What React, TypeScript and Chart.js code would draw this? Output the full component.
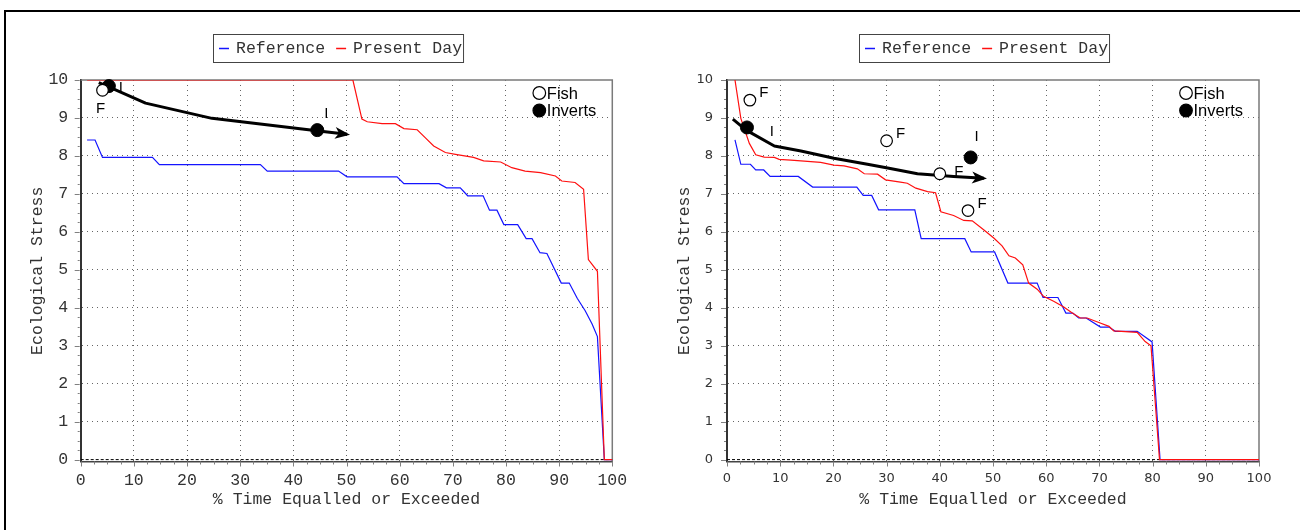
import React, { useEffect, useRef } from 'react';
import { Chart, registerables } from 'chart.js';

Chart.register(...registerables);

type P = [number, number];

// ---------- data ----------
const xTickValues = [0, 10, 20, 30, 40, 50, 60, 70, 80, 90, 100];
const yTickValues = [0, 1, 2, 3, 4, 5, 6, 7, 8, 9, 10];
const zeroLine: P[] = [[0, 0], [100, 0]];

const leftReference: P[] = [
  [1.2, 8.42], [2.7, 8.42], [4.1, 7.96], [13.5, 7.96], [14.8, 7.77], [33.8, 7.77], [35.1, 7.6],
  [48.5, 7.6], [50.1, 7.45], [59.5, 7.45], [60.8, 7.27], [67.4, 7.27], [68.8, 7.16], [71.4, 7.16],
  [72.8, 6.95], [75.7, 6.95], [76.9, 6.57], [78.3, 6.57], [79.6, 6.19], [82.2, 6.19], [83.8, 5.82],
  [84.9, 5.82], [86.4, 5.45], [87.7, 5.43], [90.4, 4.65], [91.9, 4.65], [93.4, 4.25], [94.9, 3.92],
  [96.2, 3.57], [97.2, 3.24], [98.5, 0], [100, 0],
];
const leftPresent: P[] = [
  [1.2, 10], [51.2, 10], [52.9, 8.97], [53.9, 8.9], [56.7, 8.85], [59.2, 8.85], [60.8, 8.72],
  [63.3, 8.69], [64.8, 8.48], [66.4, 8.26], [68.6, 8.09], [70.5, 8.04], [73.9, 7.96], [75.8, 7.87],
  [79, 7.84], [81.1, 7.69], [83.6, 7.6], [86.5, 7.56], [89.3, 7.47], [90.5, 7.34], [93, 7.3],
  [94.6, 7.12], [95.5, 5.27], [97.2, 4.96], [98.5, 0], [100, 0],
];
const leftTrend: P[] = [[3.4, 9.93], [5.6, 9.8], [12.2, 9.39], [24.7, 8.99], [46.4, 8.63], [50.1, 8.57]];
const leftFish: P[] = [[4.1, 9.73]];
const leftFishLabels = ['F'];
const leftFishPlacement = ['below'];
const leftInverts: P[] = [[5.3, 9.84], [44.5, 8.68]];
const leftInvertsLabels = ['I', 'I'];
const leftInvertsPlacement = ['right', 'above'];

const rightReference: P[] = [
  [1.5, 8.42], [2.6, 7.78], [4.4, 7.78], [5.4, 7.63], [6.9, 7.63], [8.1, 7.46], [13.4, 7.46],
  [16.1, 7.18], [24.4, 7.18], [25.6, 6.96], [27.2, 6.96], [28.5, 6.58], [35.3, 6.58], [36.5, 5.82],
  [44.7, 5.82], [45.9, 5.47], [50.3, 5.47], [52.8, 4.65], [58.3, 4.65], [59.4, 4.27], [62.2, 4.27],
  [63.7, 3.86], [65, 3.86], [66.1, 3.73], [67.5, 3.73], [70.2, 3.49], [71.8, 3.49], [73, 3.38],
  [77.1, 3.38], [79.9, 3.1], [81.4, 0], [100, 0],
];
const rightPresent: P[] = [
  [1.5, 10], [2.6, 8.99], [4.2, 8.33], [5.4, 8.03], [7, 7.97], [8.9, 7.96], [9.8, 7.91], [12, 7.89],
  [13.9, 7.87], [17.6, 7.83], [20.1, 7.76], [22, 7.74], [24.5, 7.66], [25.8, 7.53], [28.3, 7.52],
  [29.8, 7.37], [32.6, 7.31], [33.9, 7.28], [35.5, 7.15], [37.7, 7.06], [39.2, 7.03], [40.2, 6.53],
  [42.6, 6.43], [44.5, 6.3], [46.1, 6.29], [48.3, 6.05], [50.2, 5.83], [51.7, 5.63], [53, 5.37],
  [54.2, 5.31], [55.6, 5.13], [56.7, 4.65], [58.3, 4.49], [59.5, 4.3], [61.4, 4.17], [63.3, 4.02],
  [64.9, 3.86], [66.4, 3.73], [67.7, 3.73], [69.9, 3.61], [71.8, 3.51], [72.7, 3.39], [77.1, 3.35],
  [78.6, 3.11], [79.7, 3.0], [81.3, 0], [100, 0],
];
const rightTrend: P[] = [
  [1.1, 8.97], [3.6, 8.68], [8.9, 8.26], [13.9, 8.13], [20.1, 7.94], [26.4, 7.78], [30.2, 7.68],
  [35.8, 7.53], [42.6, 7.46], [48.3, 7.41],
];
const rightFish: P[] = [[4.3, 9.47], [30, 8.4], [40, 7.53], [45.3, 6.56]];
const rightFishLabels = ['F', 'F', 'F', 'F'];
const rightFishPlacement = ['ne', 'ne', 'e', 'ne'];
const rightInverts: P[] = [[3.75, 8.75], [45.8, 7.96]];
const rightInvertsLabels = ['I', 'I'];
const rightInvertsPlacement = ['farRight', 'n'];

// ---------- styling ----------
const MONO = "'Liberation Mono', 'DejaVu Sans Mono', monospace";
const SANS = "'Liberation Sans', Arial, sans-serif";
const DEJAVU = "'DejaVu Sans', sans-serif";
const TEXT = '#333';

const placementOffsets: Record<string, [number, number]> = {
  below: [-2, 19],
  right: [12, 2],
  above: [9, -16],
  ne: [14, -7],
  farRight: [25, 4],
  e: [19, -2],
  n: [6, -21],
};

const decorPlugin = {
  id: 'decor',
  beforeDatasetsDraw(chart: any) {
    const { ctx, chartArea: ca } = chart;
    const xs = chart.scales.x;
    const ys = chart.scales.y;
    ctx.save();
    // top & right frame
    ctx.strokeStyle = '#7a7a7a';
    ctx.lineWidth = 1.5;
    ctx.beginPath();
    ctx.moveTo(ca.left, ca.top);
    ctx.lineTo(ca.right, ca.top);
    ctx.lineTo(ca.right, ca.bottom);
    ctx.stroke();
    // tick marks (major + minor)
    ctx.strokeStyle = '#808080';
    ctx.lineWidth = 1;
    for (let i = 0; i <= 40; i++) {
      const v = i * 2.5;
      const px = Math.round(xs.getPixelForValue(v)) + 0.5;
      const len = i % 4 === 0 ? 5 : 3;
      ctx.beginPath();
      ctx.moveTo(px, ca.bottom);
      ctx.lineTo(px, ca.bottom + len);
      ctx.stroke();
    }
    for (let i = 0; i <= 40; i++) {
      const v = i * 0.25;
      const py = Math.round(ys.getPixelForValue(v)) + 0.5;
      const len = i % 4 === 0 ? 6 : 3;
      ctx.beginPath();
      ctx.moveTo(ca.left - len, py);
      ctx.lineTo(ca.left - 1, py);
      ctx.stroke();
    }
    // marker letters (under the trend arrow)
    ctx.fillStyle = '#000';
    ctx.font = `15px ${SANS}`;
    ctx.textAlign = 'center';
    ctx.textBaseline = 'middle';
    chart.data.datasets.forEach((d: any, i: number) => {
      if (!d.pointLabels) return;
      const pts = chart.getDatasetMeta(i).data;
      pts.forEach((p: any, j: number) => {
        const off = placementOffsets[d.placements[j]] || [10, -10];
        ctx.fillText(d.pointLabels[j], p.x + off[0], p.y + off[1]);
      });
    });
    ctx.restore();
  },
  afterDatasetsDraw(chart: any) {
    const { ctx, chartArea: ca } = chart;
    ctx.save();
    // arrow heads
    chart.data.datasets.forEach((d: any, i: number) => {
      if (!d.arrow) return;
      const pts = chart.getDatasetMeta(i).data;
      const a = pts[pts.length - 2];
      const b = pts[pts.length - 1];
      const ang = Math.atan2(b.y - a.y, b.x - a.x);
      ctx.save();
      ctx.translate(b.x, b.y);
      ctx.rotate(ang);
      ctx.beginPath();
      ctx.moveTo(3, 0);
      ctx.lineTo(-12, -6);
      ctx.lineTo(-8, 0);
      ctx.lineTo(-12, 6);
      ctx.closePath();
      ctx.fillStyle = '#000';
      ctx.fill();
      ctx.restore();
    });
    // Fish / Inverts key
    const kx = ca.right - 73;
    const keyItems = chart.data.datasets.filter((d: any) => d.inKey);
    ctx.font = `16.5px ${SANS}`;
    ctx.textAlign = 'left';
    ctx.textBaseline = 'middle';
    keyItems.forEach((d: any, j: number) => {
      const ky = ca.top + 13 + j * 17.5;
      ctx.beginPath();
      ctx.arc(kx, ky, 6.3, 0, Math.PI * 2);
      ctx.fillStyle = d.pointBackgroundColor;
      ctx.fill();
      ctx.strokeStyle = '#000';
      ctx.lineWidth = 1.2;
      ctx.stroke();
      ctx.fillStyle = '#000';
      ctx.fillText(d.label, kx + 7.5, ky + 1);
    });
    // Reference / Present Day legend box
    const items = chart.data.datasets.filter((d: any) => d.inLegend);
    ctx.font = `16.5px ${MONO}`;
    const widths = items.map((d: any) => ctx.measureText(d.label).width);
    let total = 6;
    items.forEach((_d: any, j: number) => {
      total += 17 + widths[j] + (j < items.length - 1 ? 11 : 1);
    });
    const cx = (ca.left + ca.right) / 2 - 8.5;
    const left = Math.round(cx - total / 2);
    const top = 34;
    const h = 28;
    ctx.fillStyle = '#fff';
    ctx.fillRect(left, top, total, h);
    ctx.strokeStyle = '#444';
    ctx.lineWidth = 1;
    ctx.strokeRect(left + 0.5, top + 0.5, total, h);
    let x = left + 6;
    const y = top + h / 2 + 0.5;
    items.forEach((d: any, j: number) => {
      ctx.strokeStyle = d.borderColor;
      ctx.lineWidth = 1.5;
      ctx.beginPath();
      ctx.moveTo(x, y);
      ctx.lineTo(x + 10, y);
      ctx.stroke();
      x += 17;
      ctx.fillStyle = TEXT;
      ctx.textAlign = 'left';
      ctx.textBaseline = 'middle';
      ctx.fillText(d.label, x, y);
      x += widths[j] + 11;
    });
    ctx.restore();
  },
};

interface Spec {
  reference: P[];
  present: P[];
  trend: P[];
  fish: P[];
  fishLabels: string[];
  fishPlacement: string[];
  inverts: P[];
  invertsLabels: string[];
  invertsPlacement: string[];
  tickFont: { family: string; size: number };
  yWidth: number;
  rightPad: number;
  yTitlePad: number;
  yTickPad: number;
}

const toXY = (a: P[]) => a.map(([x, y]) => ({ x, y }));

function buildConfig(s: Spec): any {
  return {
    type: 'line',
    data: {
      datasets: [
        {
          label: 'Reference', data: toXY(s.reference), borderColor: '#1414ff', borderWidth: 1.2,
          pointRadius: 0, tension: 0, fill: false, order: 3, inLegend: true,
        },
        {
          label: 'Present Day', data: toXY(s.present), borderColor: '#ff1010', borderWidth: 1.2,
          pointRadius: 0, tension: 0, fill: false, order: 2, inLegend: true,
        },
        {
          label: 'zero', data: toXY(zeroLine), borderColor: '#000', borderWidth: 1, borderDash: [3, 2],
          pointRadius: 0, fill: false, order: 4,
        },
        {
          label: 'trend', data: toXY(s.trend), borderColor: '#000', borderWidth: 3, pointRadius: 0,
          tension: 0, fill: false, order: 1, arrow: true, borderJoinStyle: 'round', clip: false,
        },
        {
          label: 'Fish', data: toXY(s.fish), showLine: false, pointRadius: 5.8, pointHoverRadius: 5.8,
          pointBackgroundColor: '#fff', pointBorderColor: '#000', pointBorderWidth: 1.2, order: 0,
          pointLabels: s.fishLabels, placements: s.fishPlacement, inKey: true, clip: false,
        },
        {
          label: 'Inverts', data: toXY(s.inverts), showLine: false, pointRadius: 6.5, pointHoverRadius: 6.5,
          pointBackgroundColor: '#000', pointBorderColor: '#000', pointBorderWidth: 1, order: 0,
          pointLabels: s.invertsLabels, placements: s.invertsPlacement, inKey: true, clip: false,
        },
      ],
    },
    options: {
      responsive: false,
      animation: false,
      devicePixelRatio: 1,
      events: [],
      layout: { padding: { left: 0, right: s.rightPad, top: 80, bottom: 0 } },
      plugins: { legend: { display: false }, tooltip: { enabled: false } },
      scales: {
        x: {
          type: 'linear', min: 0, max: 100,
          afterBuildTicks: (sc: any) => { sc.ticks = xTickValues.map((v) => ({ value: v })); },
          afterFit: (sc: any) => { sc.height = 68.5; },
          grid: {
            drawTicks: false, lineWidth: 1,
            color: (c: any) => (c.tick && (c.tick.value === 0 || c.tick.value === 100) ? 'rgba(0,0,0,0)' : '#666'),
          },
          border: { display: true, color: '#444', width: 1.5, dash: [1, 4] },
          ticks: { font: s.tickFont, color: TEXT, padding: 9, maxRotation: 0, autoSkip: false },
          title: {
            display: true, text: '% Time Equalled or Exceeded', color: TEXT,
            font: { family: MONO, size: 16.5 }, padding: { top: 0, bottom: 20 },
          },
        },
        y: {
          type: 'linear', min: -0.05, max: 10,
          afterBuildTicks: (sc: any) => { sc.ticks = yTickValues.map((v) => ({ value: v })); },
          afterFit: (sc: any) => { sc.width = s.yWidth; },
          grid: {
            drawTicks: false, lineWidth: 1,
            color: (c: any) => (c.tick && (c.tick.value === 0 || c.tick.value === 10) ? 'rgba(0,0,0,0)' : '#666'),
          },
          border: { display: true, color: '#333', width: 2, dash: [1, 4] },
          ticks: { font: s.tickFont, color: TEXT, padding: s.yTickPad, autoSkip: false },
          title: {
            display: true, text: 'Ecological Stress', color: TEXT,
            font: { family: MONO, size: 16.5 }, padding: { top: s.yTitlePad, bottom: 0 },
          },
        },
      },
    },
    plugins: [decorPlugin],
  };
}

const leftSpec: Spec = {
  reference: leftReference, present: leftPresent, trend: leftTrend,
  fish: leftFish, fishLabels: leftFishLabels, fishPlacement: leftFishPlacement,
  inverts: leftInverts, invertsLabels: leftInvertsLabels, invertsPlacement: leftInvertsPlacement,
  tickFont: { family: MONO, size: 16.5 }, yWidth: 80.7, rightPad: 37.7, yTitlePad: 28, yTickPad: 12.5,
};

const rightSpec: Spec = {
  reference: rightReference, present: rightPresent, trend: rightTrend,
  fish: rightFish, fishLabels: rightFishLabels, fishPlacement: rightFishPlacement,
  inverts: rightInverts, invertsLabels: rightInvertsLabels, invertsPlacement: rightInvertsPlacement,
  tickFont: { family: DEJAVU, size: 13 }, yWidth: 77, rightPad: 41, yTitlePad: 25, yTickPad: 14,
};

function ChartCanvas({ spec, left }: { spec: Spec; left: number }) {
  const ref = useRef<HTMLCanvasElement | null>(null);
  useEffect(() => {
    if (!ref.current) return;
    const chart = new Chart(ref.current, buildConfig(spec));
    return () => chart.destroy();
  }, [spec]);
  return (
    <canvas
      ref={ref}
      width={650}
      height={530}
      style={{ position: 'absolute', left, top: 0, width: 650, height: 530 }}
    />
  );
}

export default function App() {
  return (
    <div style={{ position: 'fixed', left: 0, top: 0, width: 1300, height: 530, background: '#fff', overflow: 'hidden' }}>
      <div
        style={{
          position: 'absolute', left: 4, top: 10, width: 1400, height: 700,
          borderLeft: '2px solid #000', borderTop: '2px solid #000',
        }}
      />
      <ChartCanvas spec={leftSpec} left={0} />
      <ChartCanvas spec={rightSpec} left={650} />
    </div>
  );
}
